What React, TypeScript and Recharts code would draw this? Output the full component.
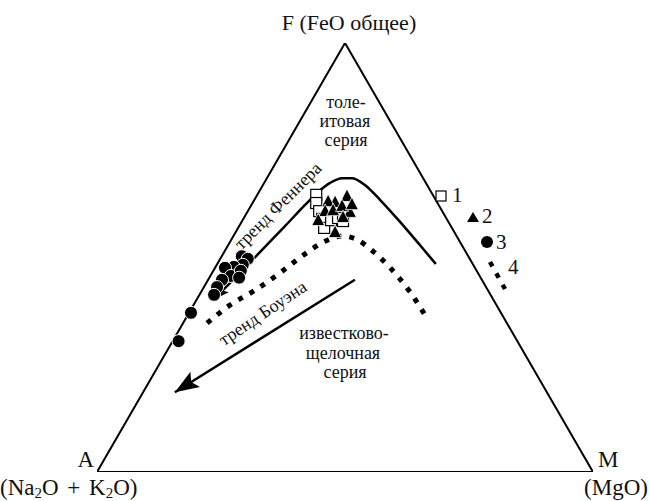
import React from 'react';
import { ComposedChart, XAxis, YAxis, Line, Scatter } from 'recharts';

// Ternary compositions in percent: F = FeO total, M = MgO, A = Na2O+K2O = 100 - F - M
const vertexNames = ['A', 'M', 'F', 'A'];
const vertexF = [0, 0, 100, 0];
const vertexM = [0, 100, 0, 0];

// Fenner trend (solid curve)
const fennerF = [40.1, 45.2, 51.3, 57.3, 62.2, 65.3, 67.4, 68.5, 68.5, 66.9, 63.4, 58.3, 52.9, 48.5];
const fennerM = [3.35, 5.2, 7.25, 9.25, 10.8, 11.95, 13.3, 15.15, 17.15, 20.55, 25.4, 31.95, 38.65, 44.05];

// dotted curve (4)
const dottedF = [34.7, 38.9, 42.4, 46.4, 50.8, 53.8, 55.0, 54.3, 51.7, 47.6, 42.0, 35.9];
const dottedM = [4.85, 7.35, 10.7, 13.7, 16.5, 19.1, 21.9, 25.05, 29.55, 35.3, 42.1, 48.55];

// Bowen trend arrow (start, tip)
const bowenF = [44.8, 18.6];
const bowenM = [29.6, 6.4];

// series 1: open squares
const squareF = [64.6, 62.7, 60.8, 59.0, 56.9, 58.7, 59.2, 58.5];
const squareM = [11.9, 12.85, 14.4, 15.9, 17.35, 17.85, 19.0, 20.35];

// series 2: filled triangles
const triangleF = [64.1, 62.7, 62.9, 60.4, 60.6, 60.8, 61.8, 58.5, 55.7, 59.2, 62.2];
const triangleM = [18.35, 16.65, 15.15, 20.8, 15.7, 17.2, 18.5, 15.35, 20.15, 20.0, 20.3];

// series 3: filled circles
const circleF = [37.1, 30.5, 50.3, 49.7, 48.3, 47.8, 47.6, 45.7, 44.8, 43.1, 41.3, 46.9, 45.3];
const circleM = [0.4, 1.2, 4.05, 5.55, 5.25, 3.7, 2.0, 4.15, 2.8, 2.65, 2.95, 5.55, 6.0];

const legendLabels = ['1', '2', '3', '4'];

const toXY = (F: number[], M: number[]) => F.map((f, i) => ({ x: M[i] + f / 2, y: f }));

const FONT = 'Liberation Serif';

const outline = toXY(vertexF, vertexM).map((p, i) => ({ ...p, name: vertexNames[i] }));
const fenner = toXY(fennerF, fennerM);
const dotted = toXY(dottedF, dottedM);
const bowen = toXY(bowenF, bowenM);
const squares = toXY(squareF, squareM);
const triangles = toXY(triangleF, triangleM);
const circles = toXY(circleF, circleM);

const makeArrow = (angle: number, len: number, half: number) => (props: any) => {
  const { cx, cy } = props;
  if (cx == null || cy == null) return null;
  return (
    <polygon
      points={`0,0 ${-len},${-half} ${-len * 0.8},0 ${-len},${half}`}
      transform={`translate(${cx},${cy}) rotate(${angle})`}
      fill="#000"
    />
  );
};

const SquareShape = (props: any) => {
  const { cx, cy } = props;
  return <rect x={cx - 5.5} y={cy - 5.5} width={11} height={11} fill="#fff" stroke="#000" strokeWidth={1.2} />;
};
const TriangleShape = (props: any) => {
  const { cx, cy } = props;
  return (
    <polygon
      points={`${cx},${cy - 8} ${cx - 6.5},${cy + 4.5} ${cx + 6.5},${cy + 4.5}`}
      fill="#000"
      stroke="#fff"
      strokeWidth={0.8}
    />
  );
};
const CircleShape = (props: any) => {
  const { cx, cy } = props;
  return <circle cx={cx} cy={cy} r={6.5} fill="#000" stroke="#fff" strokeWidth={1} />;
};

export default function App() {
  return (
    <div style={{ position: 'absolute', left: 0, top: 0, width: 650, height: 501, background: '#fff' }}>
      <ComposedChart width={650} height={501} margin={{ top: 43, right: 57, bottom: 29, left: 97 }}>
        <XAxis type="number" dataKey="x" domain={[0, 100]} hide allowDataOverflow />
        <YAxis type="number" dataKey="y" domain={[0, 100]} hide allowDataOverflow />
        <Line data={outline} dataKey="y" type="linear" stroke="#000" strokeWidth={2} dot={false} isAnimationActive={false} />
        <Line data={fenner} dataKey="y" type="monotone" stroke="#000" strokeWidth={2.5} dot={false} isAnimationActive={false} />
        <Line
          data={dotted}
          dataKey="y"
          type="monotone"
          stroke="#000"
          strokeWidth={5}
          strokeDasharray="5 8"
          dot={false}
          isAnimationActive={false}
        />
        <Line data={bowen} dataKey="y" type="linear" stroke="#000" strokeWidth={2.5} dot={false} isAnimationActive={false} />
        <Scatter data={[bowen[1]]} shape={makeArrow(148, 24, 9)} isAnimationActive={false} />
        <Scatter data={[fenner[0]]} shape={makeArrow(130, 16, 7)} isAnimationActive={false} />
        <Scatter data={squares} shape={SquareShape} isAnimationActive={false} />
        <Scatter data={triangles} shape={TriangleShape} isAnimationActive={false} />
        <Scatter data={circles} shape={CircleShape} isAnimationActive={false} />
      </ComposedChart>
      <svg width={650} height={501} style={{ position: 'absolute', left: 0, top: 0, pointerEvents: 'none' }}>
        <g fill="#111" fontFamily={FONT}>
          <text x={349} y={30} fontSize={22} textAnchor="middle">F (FeO общее)</text>
          <text x={94} y={467} fontSize={23} textAnchor="end">A</text>
          <text x={0} y={495} fontSize={23} wordSpacing={3}>
            (Na<tspan fontSize={15} dy={3}>2</tspan>
            <tspan dy={-3}>O + K</tspan>
            <tspan fontSize={15} dy={3}>2</tspan>
            <tspan dy={-3}>O)</tspan>
          </text>
          <text x={598} y={467} fontSize={23}>M</text>
          <text x={648} y={495} fontSize={23} textAnchor="end">(MgO)</text>

          <g fontSize={18} textAnchor="middle">
            <text x={346} y={108}>толе-</text>
            <text x={345} y={127}>итовая</text>
            <text x={346} y={146}>серия</text>
            <text x={344} y={339}>известково-</text>
            <text x={343} y={359}>щелочная</text>
            <text x={345} y={378}>серия</text>
            <text transform="translate(282,210) rotate(-45)">тренд Феннера</text>
            <text transform="translate(266,318) rotate(-34)">тренд Боуэна</text>
          </g>

          <g fontSize={21}>
            <rect x={436} y={191} width={10} height={10} fill="#fff" stroke="#000" strokeWidth={1.2} />
            <text x={452} y={202}>{legendLabels[0]}</text>
            <polygon points="473,212 467,222 479,222" fill="#000" />
            <text x={482} y={223}>{legendLabels[1]}</text>
            <circle cx={487} cy={242} r={6} fill="#000" />
            <text x={496} y={249}>{legendLabels[2]}</text>
            <line x1={490} y1={262} x2={505} y2={289} stroke="#000" strokeWidth={4.5} strokeDasharray="5 8" />
            <text x={508} y={274}>{legendLabels[3]}</text>
          </g>
        </g>
      </svg>
    </div>
  );
}
